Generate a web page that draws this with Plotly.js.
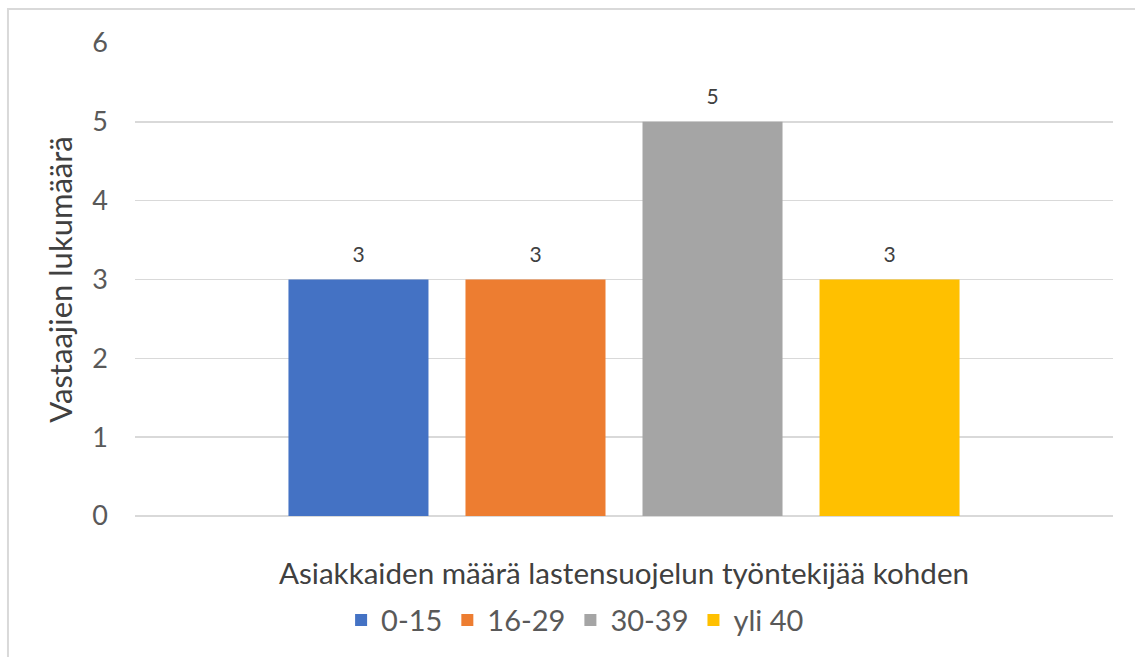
<!DOCTYPE html>
<html>
<head>
<meta charset="utf-8">
<script src="https://cdn.plot.ly/plotly-3.0.1.min.js"></script>
<style>html,body{margin:0;padding:0;background:#fff;}#chart{width:1135px;height:657px;}</style>
</head>
<body>
<div id="chart"></div>
<script>
const category = [" "];
const seriesNames = ["0-15", "16-29", "30-39", "yli 40"];
const seriesValues = [3, 3, 5, 3];
const seriesColors = ["#4472C4", "#ED7D31", "#A5A5A5", "#FFC000"];
const yTicks = [0, 1, 2, 3, 4, 5, 6];
const xTitle = "Asiakkaiden määrä lastensuojelun työntekijää kohden";
const yTitle = "Vastaajien lukumäärä";

const FONT = "Lato, 'Open Sans', sans-serif";

const traces = seriesNames.map((name, i) => ({
  type: "bar",
  name: name,
  x: category,
  y: [seriesValues[i]],
  marker: {color: seriesColors[i]},
  text: [String(seriesValues[i])],
  texttemplate: "<span style='font-size:21px'>%{text}</span><br> ",
  textposition: "outside",
  cliponaxis: false,
  constraintext: "none",
  textfont: {family: FONT, size: 10, color: "#404040"},
  hoverinfo: "skip"
}));

const layout = {
  width: 1135, height: 657,
  margin: {l: 135, r: 22, t: 43, b: 141},
  paper_bgcolor: "#ffffff", plot_bgcolor: "#ffffff",
  font: {family: FONT, color: "#595959"},
  barmode: "group",
  bargap: 0.276,
  bargroupgap: 0.209,
  showlegend: true,
  legend: {
    orientation: "h", x: 0.45, xanchor: "center", y: -0.22, yanchor: "middle",
    font: {family: FONT, size: 29, color: "#595959"},
    itemwidth: 30, tracegroupgap: 0
  },
  xaxis: {
    showticklabels: false, showgrid: false, zeroline: false, showline: false,
    ticks: "",
    title: {text: xTitle, font: {family: FONT, size: 29.6, color: "#404040"}, standoff: 47}
  },
  yaxis: {
    range: [0, 6], tickvals: yTicks, ticktext: yTicks.map(String),
    showgrid: true, gridcolor: "#D9D9D9", gridwidth: 1.5,
    zeroline: true, zerolinecolor: "#D9D9D9", zerolinewidth: 2,
    showline: false, ticks: "", ticklabelstandoff: 26,
    tickfont: {family: FONT, size: 27, color: "#595959"},
    title: {text: yTitle, font: {family: FONT, size: 31, color: "#404040"}, standoff: 10}
  },
  shapes: [{
    type: "rect", xref: "paper", yref: "paper",
    x0: -0.1299, x1: 1.03, y0: -0.32, y1: 1.0719,
    line: {color: "#D9D9D9", width: 2}, fillcolor: "rgba(0,0,0,0)", layer: "below"
  }]
};

Plotly.newPlot("chart", traces, layout, {displayModeBar: false, staticPlot: true});
</script>
</body>
</html>
